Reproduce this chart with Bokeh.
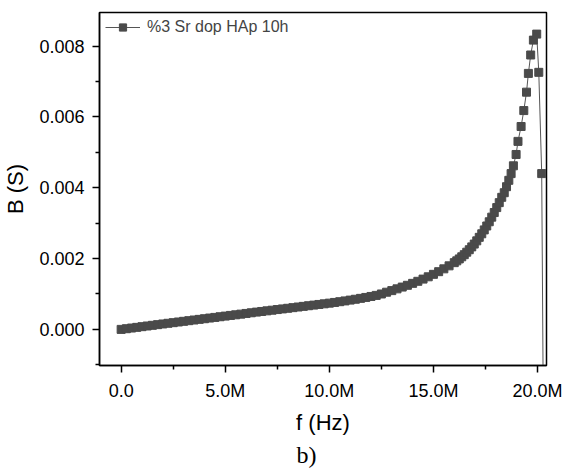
from bokeh.plotting import figure
from bokeh.models import (Range1d, FixedTicker, CustomJSTickFormatter, PrintfTickFormatter,
                          Legend, LegendItem, Title)
from bokeh.embed import file_html
from bokeh.resources import INLINE

# frequency in MHz
freq_mhz = [0.00, 0.25, 0.50, 0.75, 1.00, 1.25, 1.50, 1.75, 2.00, 2.25, 2.50, 2.75,
            3.00, 3.25, 3.50, 3.75, 4.00, 4.25, 4.50, 4.75, 5.00, 5.25, 5.50, 5.75,
            6.00, 6.25, 6.50, 6.75, 7.00, 7.25, 7.50, 7.75, 8.00, 8.25, 8.50, 8.75,
            9.00, 9.25, 9.50, 9.75, 10.00, 10.25, 10.50, 10.75, 11.00, 11.25, 11.50, 11.75,
            12.00, 12.25, 12.50, 12.75, 13.00, 13.25, 13.50, 13.75, 14.00, 14.25, 14.50, 14.75,
            15.00, 15.25, 15.50, 15.75, 16.00, 16.12, 16.24, 16.36, 16.48, 16.60, 16.72, 16.84,
            16.96, 17.08, 17.20, 17.32, 17.44, 17.56, 17.68, 17.80, 17.92, 18.04, 18.16, 18.28,
            18.40, 18.51, 18.62, 18.73, 18.84, 18.97, 19.06, 19.21, 19.34, 19.47, 19.56, 19.67,
            19.80, 19.96, 20.06, 20.20, 20.32]
# B in mS
b_ms = [0.000, 0.019, 0.038, 0.057, 0.077, 0.096, 0.115, 0.134, 0.153, 0.172, 0.190, 0.209,
        0.228, 0.246, 0.265, 0.283, 0.301, 0.320, 0.338, 0.357, 0.375, 0.394, 0.412, 0.431,
        0.450, 0.469, 0.488, 0.506, 0.524, 0.542, 0.560, 0.578, 0.596, 0.614, 0.632, 0.650,
        0.668, 0.686, 0.704, 0.722, 0.741, 0.761, 0.782, 0.804, 0.827, 0.851, 0.876, 0.902,
        0.930, 0.960, 1.000, 1.050, 1.095, 1.145, 1.195, 1.245, 1.300, 1.358, 1.420, 1.485,
        1.555, 1.630, 1.710, 1.795, 1.885, 1.935, 1.990, 2.050, 2.110, 2.180, 2.250, 2.330,
        2.410, 2.500, 2.600, 2.700, 2.810, 2.920, 3.040, 3.170, 3.300, 3.440, 3.580, 3.730,
        3.860, 4.030, 4.210, 4.400, 4.620, 4.940, 5.310, 5.730, 6.180, 6.700, 7.230, 7.750,
        8.170, 8.340, 7.260, 4.400, -6.000]

x_ticks = [0, 5e6, 10e6, 15e6, 20e6]
x_minor = [-2.5e6, 2.5e6, 7.5e6, 12.5e6, 17.5e6]
y_ticks = [0.0, 0.002, 0.004, 0.006, 0.008]
y_minor = [-0.001, 0.001, 0.003, 0.005, 0.007]

freq_hz = [f * 1e6 for f in freq_mhz]
b_s = [b * 1e-3 for b in b_ms]

p = figure(width=563, height=470, output_backend="svg", toolbar_location=None,
           x_range=Range1d(-1.04e6, 20.43e6), y_range=Range1d(-0.00102, 0.00895),
           min_border_left=98, min_border_right=17, min_border_top=12, min_border_bottom=105)
p.background_fill_color = "white"
p.border_fill_color = "white"
p.outline_line_color = "black"
p.outline_line_width = 1.5
p.grid.visible = False

ln = p.line(freq_hz, b_s, line_color="#555555", line_width=1)
sc = p.scatter(freq_hz, b_s, marker="square", size=8, fill_color="#4a4a4a", line_color="#4a4a4a")

for ax in (p.xaxis[0], p.yaxis[0]):
    ax.axis_line_width = 1.5
    ax.major_tick_line_width = 1.5
    ax.minor_tick_line_width = 1.5
    ax.major_tick_out = 7
    ax.major_tick_in = 0
    ax.minor_tick_out = 4
    ax.minor_tick_in = 0
    ax.major_label_text_font = "Liberation Sans"
    ax.major_label_text_font_size = "18px"
    ax.major_label_text_color = "black"
    ax.axis_label_text_font = "Liberation Sans"
    ax.axis_label_text_font_size = "22px"
    ax.axis_label_text_font_style = "normal"
    ax.axis_label_text_color = "black"

p.xaxis.ticker = FixedTicker(ticks=x_ticks, minor_ticks=x_minor)
p.xaxis.formatter = CustomJSTickFormatter(code="""
    if (tick == 0) { return "0.0"; }
    return (tick / 1e6).toFixed(1) + "M";
""")
p.xaxis.axis_label = "f (Hz)"
p.xaxis.major_label_standoff = 8
p.xaxis.axis_label_standoff = 6

p.yaxis.ticker = FixedTicker(ticks=y_ticks, minor_ticks=y_minor)
p.yaxis.formatter = PrintfTickFormatter(format="%.3f")
p.yaxis.axis_label = "B (S)"
p.yaxis.major_label_standoff = 8
p.yaxis.axis_label_standoff = 8

legend = Legend(items=[LegendItem(label="%3 Sr dop HAp 10h", renderers=[ln, sc])],
                location="top_left", border_line_color=None, background_fill_alpha=0,
                label_text_font="Liberation Sans", label_text_font_size="16px",
                glyph_width=35, glyph_height=18, label_height=18, label_standoff=7,
                padding=4, margin=6)
p.add_layout(legend)

cap = Title(text="b)", align="left", offset=197, standoff=4, text_font="Liberation Serif",
            text_font_size="24px", text_font_style="normal", text_color="black")
p.add_layout(cap, "below")

open("out.html", "w").write(file_html(p, INLINE))
